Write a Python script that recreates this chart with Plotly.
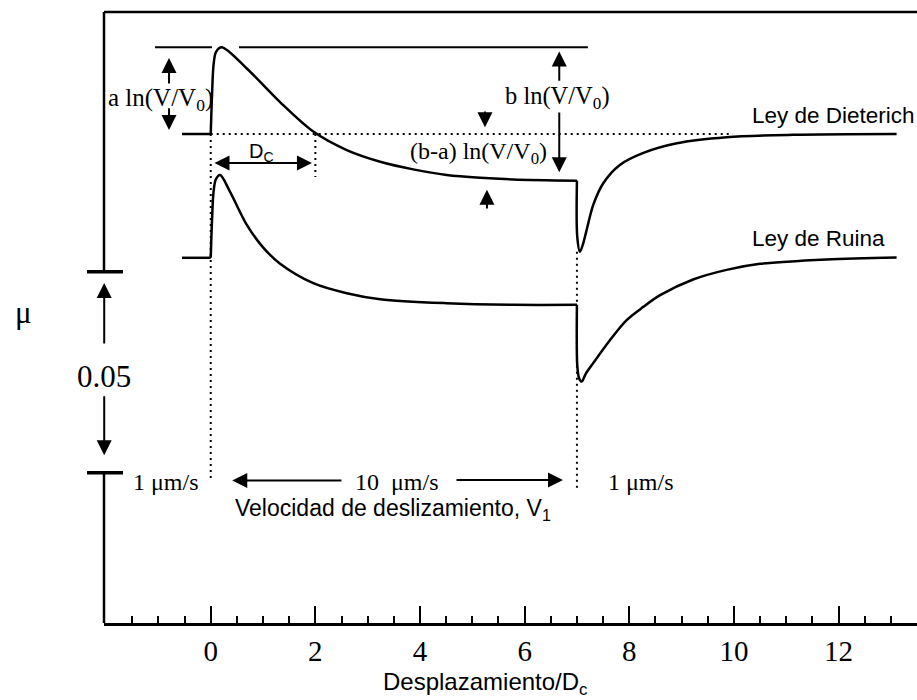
import plotly.graph_objects as go

# ---------------- data ----------------
# displacement / Dc  and friction coefficient (arbitrary offset, 0.05 scale bar)
dieterich_x = [-0.55, 0.0, 0.025, 0.054, 0.10, 0.21, 0.69, 1.32, 1.96, 2.60, 3.24, 3.87,
               4.51, 5.15, 5.78, 7.0,
               7.006, 7.058, 7.12, 7.185, 7.31, 7.50, 7.82, 8.27, 8.91, 9.86, 11.13, 13.11]
dieterich_mu = [0.6000, 0.6000, 0.6097, 0.6172, 0.6204, 0.6216, 0.6163, 0.6080, 0.6006,
                0.5960, 0.5931, 0.5912, 0.5898, 0.5891, 0.5887, 0.5884,
                0.5744, 0.5707, 0.5728, 0.5761, 0.5823, 0.5877, 0.5923, 0.5953, 0.5977,
                0.5992, 0.5998, 0.6000]

ruina_x = [-0.55, 0.0, 0.025, 0.054, 0.10, 0.18, 0.37, 0.69, 1.00, 1.32, 1.96, 2.60, 3.24,
           4.51, 5.78, 7.0,
           7.006, 7.04, 7.09, 7.17, 7.31, 7.63, 7.95, 8.27, 8.59, 9.22, 9.86, 10.50, 11.77, 13.11]
ruina_mu = [0.5692, 0.5692, 0.5786, 0.5856, 0.5888, 0.5898, 0.5856, 0.5774, 0.5718, 0.5678,
            0.5629, 0.5604, 0.5589, 0.5579, 0.5575, 0.5575,
            0.5425, 0.5393, 0.5384, 0.5404, 0.5430, 0.5487, 0.5537, 0.5570, 0.5599, 0.5638,
            0.5662, 0.5677, 0.5688, 0.5693]

x_tick_vals = [0, 2, 4, 6, 8, 10, 12]
x_tick_text = ["0", "2", "4", "6", "8", "10", "12"]
x_minor_vals = [-1.5, -1, -0.5, 0.5, 1, 1.5, 2.5, 3, 3.5, 4.5, 5, 5.5, 6.5, 7, 7.5, 8.5, 9,
                9.5, 10.5, 11, 11.5, 12.5, 13]

velocity_step_x = [0.0, 7.0]          # velocity steps 1 -> 10 -> 1 um/s
dc_value = 2.0                        # critical slip distance (in Dc units)
scale_bar = [0.5157, 0.5657]          # 0.05 friction scale bar

X_RANGE = [-2.04, 13.5]
Y_RANGE = [0.47834, 0.63334]

SERIF = "Liberation Serif, Times New Roman, serif"
SANS = "Liberation Sans, Arial, sans-serif"
BLACK = "#000000"

fig = go.Figure()


def add_curve(xs, ys):
    i0 = xs.index(velocity_step_x[0])
    i7 = xs.index(velocity_step_x[1])
    parts = [(0, i0 + 1, "linear"), (i0, i7 + 1, "spline"), (i7, len(xs), "spline")]
    for a, b, shape in parts:
        fig.add_trace(go.Scatter(
            x=xs[a:b], y=ys[a:b], mode="lines",
            line=dict(color=BLACK, width=2.5, shape=shape, smoothing=0.9),
            showlegend=False, hoverinfo="skip"))


add_curve(dieterich_x, dieterich_mu)
add_curve(ruina_x, ruina_mu)

mu0 = dieterich_mu[0]
mu_peak = max(dieterich_mu)
mu_min_d = min(dieterich_mu)
dot = "2px,4px"

shapes = [
    # frame: top line and broken left axis
    dict(type="line", xref="paper", yref="y", x0=0, x1=1, y0=0.63035, y1=0.63035,
         line=dict(color=BLACK, width=2.5)),
    dict(type="line", xref="paper", yref="y", x0=0, x1=0, y0=0.63035, y1=scale_bar[1],
         line=dict(color=BLACK, width=2.5)),
    dict(type="line", xref="paper", yref="y", x0=0, x1=0, y0=scale_bar[0], y1=Y_RANGE[0],
         line=dict(color=BLACK, width=2.5)),
    # scale bar ends
    dict(type="line", xref="paper", yref="y", x0=-0.0209, x1=0.0234, y0=scale_bar[1],
         y1=scale_bar[1], line=dict(color=BLACK, width=3.5)),
    dict(type="line", xref="paper", yref="y", x0=-0.0209, x1=0.0234, y0=scale_bar[0],
         y1=scale_bar[0], line=dict(color=BLACK, width=3.5)),
    # peak guide lines
    dict(type="line", xref="x", yref="y", x0=-1.065, x1=0.025, y0=mu_peak, y1=mu_peak,
         line=dict(color=BLACK, width=2)),
    dict(type="line", xref="x", yref="y", x0=0.541, x1=7.209, y0=mu_peak, y1=mu_peak,
         line=dict(color=BLACK, width=2)),
    # dotted reference lines
    dict(type="line", xref="x", yref="y", x0=0, x1=9.98, y0=mu0, y1=mu0,
         line=dict(color=BLACK, width=2, dash=dot)),
    dict(type="line", xref="x", yref="y", x0=velocity_step_x[0], x1=velocity_step_x[0],
         y0=mu0, y1=0.5134, line=dict(color=BLACK, width=2, dash=dot)),
    dict(type="line", xref="x", yref="y", x0=dc_value, x1=dc_value, y0=mu0, y1=0.5893,
         line=dict(color=BLACK, width=2, dash=dot)),
    dict(type="line", xref="x", yref="y", x0=velocity_step_x[1], x1=velocity_step_x[1],
         y0=mu_min_d, y1=0.5119, line=dict(color=BLACK, width=2, dash=dot)),
]

annotations = []


def arrow(xt, yt, xs, ys, xref="x", both=False):
    annotations.append(dict(
        x=xt, y=yt, ax=xs, ay=ys, xref=xref, yref="y", axref=xref, ayref="y",
        text="", showarrow=True, arrowhead=2, arrowsize=1.5, arrowwidth=2,
        arrowcolor=BLACK, arrowside="end+start" if both else "end",
        startarrowhead=2, startarrowsize=1.5))


def label(x, y, text, size, family, xref="x", yref="y", xanchor="center"):
    annotations.append(dict(
        x=x, y=y, xref=xref, yref=yref, text=text, showarrow=False,
        xanchor=xanchor, yanchor="middle",
        font=dict(family=family, size=size, color=BLACK)))


# a ln(V/V0)
arrow(-0.797, 0.6189, -0.797, 0.6122)
arrow(-0.797, 0.6010, -0.797, 0.6068)
label(-0.959, 0.6085, "a ln(V/V<sub>0</sub>)", 25, SERIF)
# b ln(V/V0)
arrow(6.662, 0.6205, 6.662, 0.6129)
arrow(6.662, 0.5905, 6.662, 0.6057)
label(6.627, 0.6092, "b ln(V/V<sub>0</sub>)", 24.5, SERIF)
# (b-a) ln(V/V0)
arrow(5.242, 0.6017, 5.242, 0.6060)
arrow(5.28, 0.5861, 5.28, 0.5811)
label(5.126, 0.5953, "(b-a) ln(V/V<sub>0</sub>)", 24, SERIF)
# Dc
arrow(1.935, 0.5928, 0.044, 0.5928, both=True)
label(0.971, 0.5955, "D<sub>C</sub>", 20, SANS)
# scale bar
arrow(-2.036, 0.5629, -2.036, 0.5475)
arrow(-2.036, 0.5201, -2.036, 0.5351)
label(0.0006, 0.5396, "0.05", 31, SERIF, xref="paper")
label(-0.0996, 0.5555, "μ", 31, SERIF, xref="paper")
# velocities
arrow(0.411, 0.5138, 2.528, 0.5138)
arrow(6.733, 0.5139, 4.669, 0.5139)
label(-0.864, 0.5135, "1 μm/s", 24, SERIF)
label(3.551, 0.5135, "10\u00a0 μm/s", 24, SERIF)
label(8.232, 0.5135, "1 μm/s", 24, SERIF)
label(3.493, 0.5065, "Velocidad de deslizamiento, V<sub>1</sub>", 23, SANS)
# curve names
label(10.306, 0.6047, "Ley de Dieterich", 22.5, SANS, xanchor="left")
label(10.306, 0.5739, "Ley de Ruina", 22.5, SANS, xanchor="left")
# x-axis title
label(5.24, -0.0979, "Desplazamiento/D<sub>c</sub>", 24, SANS, yref="paper")

fig.update_layout(
    width=917, height=700,
    margin=dict(l=104, r=0, t=0, b=77, pad=0),
    paper_bgcolor="white", plot_bgcolor="white",
    shapes=shapes, annotations=annotations,
    xaxis=dict(
        range=X_RANGE, showgrid=False, zeroline=False,
        showline=True, linecolor=BLACK, linewidth=2.5,
        tickmode="array", tickvals=x_tick_vals, ticktext=x_tick_text,
        ticks="inside", ticklen=17, tickwidth=2, tickcolor=BLACK,
        ticklabelstandoff=0,
        tickfont=dict(family=SERIF, size=29, color=BLACK),
        minor=dict(tickmode="array", tickvals=x_minor_vals, ticks="inside",
                   ticklen=7, tickwidth=2, tickcolor=BLACK, showgrid=False),
    ),
    yaxis=dict(range=Y_RANGE, visible=False, showgrid=False, zeroline=False),
)

fig.write_html("out.html")
